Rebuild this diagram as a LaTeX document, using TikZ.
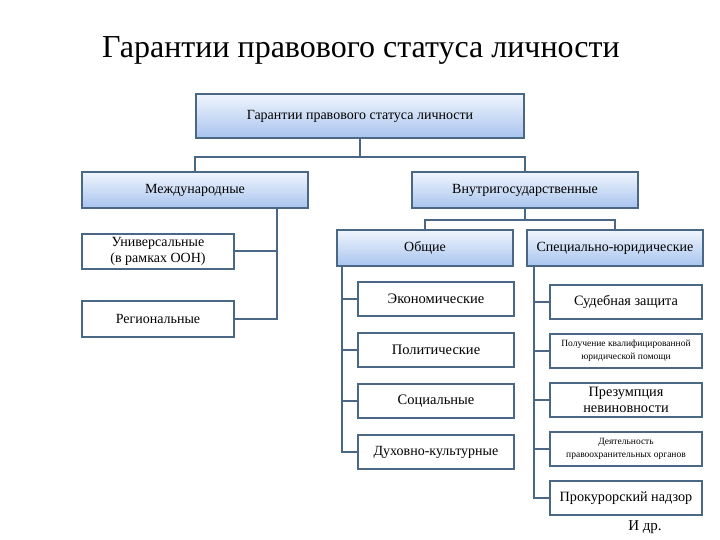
\documentclass[tikz,border=0pt]{standalone}
\usepackage{fontspec}
\setmainfont{Liberation Serif}
\usepackage{tikz}
\usetikzlibrary{positioning,calc}
\definecolor{edgeblue}{RGB}{74,104,134}
\definecolor{shadetop}{RGB}{240,245,253}
\definecolor{shadebot}{RGB}{168,196,238}

\begin{document}
\begin{tikzpicture}[x=1pt, y=-1pt,
  head/.style={draw=edgeblue, line width=2pt, top color=shadetop, bottom color=shadebot,
               align=center, inner sep=1pt, minimum height=36pt},
  leaf/.style={draw=edgeblue, line width=2pt, fill=white,
               align=center, inner sep=1pt},
  link/.style={draw=edgeblue, line width=2pt}
]
\useasboundingbox (0,0) rectangle (720,540);

\node[font=\fontsize{32}{36}\selectfont] (title) at (361,50) {Гарантии правового статуса личности};

\node[head, minimum width=328pt, minimum height=44pt, font=\fontsize{14}{16}\selectfont] (root) at (360,116) {Гарантии правового статуса личности};

\node[head, minimum width=226pt, font=\fontsize{14}{16}\selectfont] (mezh) at (195,190) {Международные};
\node[head, minimum width=226pt, font=\fontsize{14}{16}\selectfont] (vnutr) at (525,190) {Внутригосударственные};

\node[leaf, minimum width=152pt, minimum height=35pt, font=\fontsize{14}{16}\selectfont] (univ) at (158,251) {Универсальные\\(в рамках ООН)};
\node[leaf, minimum width=152pt, minimum height=36pt, font=\fontsize{14}{16}\selectfont, below=30pt of univ] (reg) {Региональные};

\node[head, minimum width=176pt, font=\fontsize{14}{16}\selectfont] (obsch) at (425,248) {Общие};
\node[head, minimum width=176pt, font=\fontsize{14}{16}\selectfont] (spec) at (615,248) {Специально-юридические};

\node[leaf, minimum width=156pt, minimum height=34pt, font=\fontsize{14.5}{16}\selectfont] (econ) at (436,299) {Экономические};
\node[leaf, minimum width=156pt, minimum height=34pt, font=\fontsize{14.5}{16}\selectfont, below=15pt of econ] (polit) {Политические};
\node[leaf, minimum width=156pt, minimum height=34pt, font=\fontsize{14.5}{16}\selectfont, below=15pt of polit] (soc) {Социальные};
\node[leaf, minimum width=156pt, minimum height=34pt, font=\fontsize{14}{16}\selectfont, below=15pt of soc] (duh) {Духовно-культурные};

\node[leaf, minimum width=152pt, minimum height=34pt, font=\fontsize{14.3}{16}\selectfont] (sud) at (626,302) {Судебная защита};
\node[leaf, minimum width=152pt, minimum height=34pt, font=\fontsize{9.5}{13}\selectfont, below=13pt of sud] (pomosch) {Получение квалифицированной\\юридической помощи};
\node[leaf, minimum width=152pt, minimum height=34pt, font=\fontsize{14.3}{16.5}\selectfont, below=13pt of pomosch] (prez) {Презумпция\\невиновности};
\node[leaf, minimum width=152pt, minimum height=34pt, font=\fontsize{9.5}{13}\selectfont, below=13pt of prez] (organy) {Деятельность\\правоохранительных органов};
\node[leaf, minimum width=152pt, minimum height=34pt, font=\fontsize{14.2}{16}\selectfont, below=13pt of organy] (nadzor) {Прокурорский надзор};

\node[font=\fontsize{15}{17}\selectfont] (etc) at (645,527) {И др.};

\draw[link] (root.south) -- ++(0,18) -| (mezh.north);
\draw[link] (root.south) -- ++(0,18) -| (vnutr.north);

\draw[link] ([xshift=-32pt]mezh.south east) |- (univ.east);
\draw[link] ([xshift=-32pt]mezh.south east) |- (reg.east);

\draw[link] (vnutr.south) -- ++(0,11) -| (obsch.north);
\draw[link] (vnutr.south) -- ++(0,11) -| (spec.north);

\foreach \n in {econ,polit,soc,duh}
  \draw[link] ([xshift=6pt]obsch.south west) |- (\n.west);
\foreach \n in {sud,pomosch,prez,organy,nadzor}
  \draw[link] ([xshift=8pt]spec.south west) |- (\n.west);
\end{tikzpicture}
\end{document}
